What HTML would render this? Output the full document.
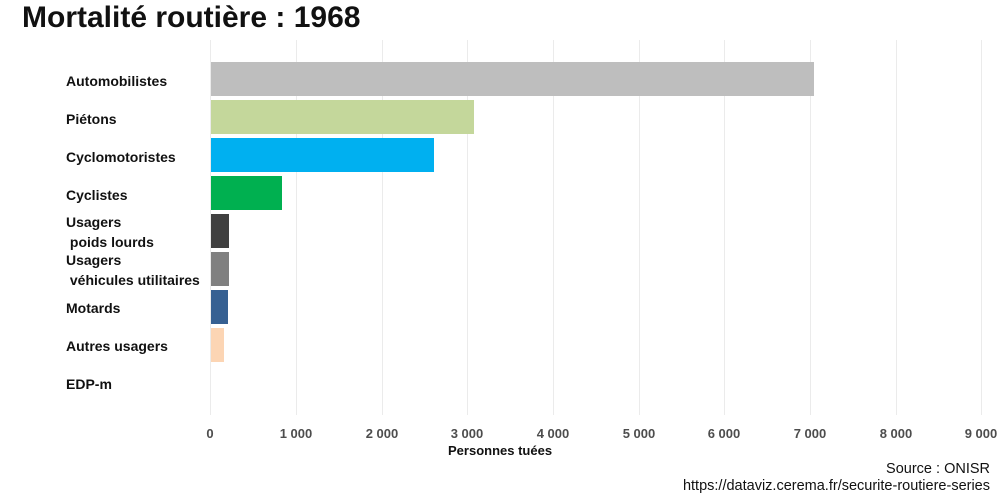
<!DOCTYPE html>
<html><head><meta charset="utf-8"><style>
body{margin:0;background:#fff;font-family:"Liberation Sans",sans-serif;}
.w{position:relative;width:1000px;height:500px;overflow:hidden;}
.t{position:absolute;left:22px;top:1px;font-size:30px;font-weight:bold;color:#111;}
.g{position:absolute;top:40px;height:375px;width:1px;background:#ebebeb;}
.b{position:absolute;left:211px;height:34px;}
.l{position:absolute;left:66px;font-size:14px;font-weight:bold;color:#111;line-height:20px;white-space:pre;}
.x{position:absolute;top:426px;font-size:13px;font-weight:bold;color:#4d4d4d;width:60px;text-align:center;}
.s{position:absolute;right:10px;font-size:14.5px;color:#111;}
</style></head><body><div class="w">
<div class="t">Mortalité routière : 1968</div>
<div class="g" style="left:210px"></div><div class="g" style="left:296px"></div><div class="g" style="left:382px"></div><div class="g" style="left:467px"></div><div class="g" style="left:553px"></div><div class="g" style="left:639px"></div><div class="g" style="left:724px"></div><div class="g" style="left:810px"></div><div class="g" style="left:896px"></div><div class="g" style="left:981px"></div>
<div class="b" style="top:62px;width:603px;background:#bebebe"></div>
<div class="b" style="top:100px;width:263px;background:#c4d79b"></div>
<div class="b" style="top:138px;width:223px;background:#00b0f0"></div>
<div class="b" style="top:176px;width:71px;background:#00b050"></div>
<div class="b" style="top:214px;width:18px;background:#404040"></div>
<div class="b" style="top:252px;width:18px;background:#808080"></div>
<div class="b" style="top:290px;width:17px;background:#366092"></div>
<div class="b" style="top:328px;width:13px;background:#fcd5b4"></div>
<div class="l" style="top:71px">Automobilistes</div>
<div class="l" style="top:109px">Piétons</div>
<div class="l" style="top:147px">Cyclomotoristes</div>
<div class="l" style="top:185px">Cyclistes</div>
<div class="l" style="top:212px">Usagers
 poids lourds</div>
<div class="l" style="top:250px">Usagers
 véhicules utilitaires</div>
<div class="l" style="top:298px">Motards</div>
<div class="l" style="top:336px">Autres usagers</div>
<div class="l" style="top:374px">EDP-m</div>
<div class="x" style="left:180px">0</div><div class="x" style="left:266px">1 000</div><div class="x" style="left:352px">2 000</div><div class="x" style="left:437px">3 000</div><div class="x" style="left:523px">4 000</div><div class="x" style="left:609px">5 000</div><div class="x" style="left:694px">6 000</div><div class="x" style="left:780px">7 000</div><div class="x" style="left:866px">8 000</div><div class="x" style="left:951px">9 000</div>
<div style="position:absolute;left:448px;top:443px;font-size:13px;font-weight:bold;color:#111">Personnes tuées</div>
<div class="s" style="top:461px">Source : ONISR</div>
<div class="s" style="top:478px">https://dataviz.cerema.fr/securite-routiere-series</div>
</div></body></html>
